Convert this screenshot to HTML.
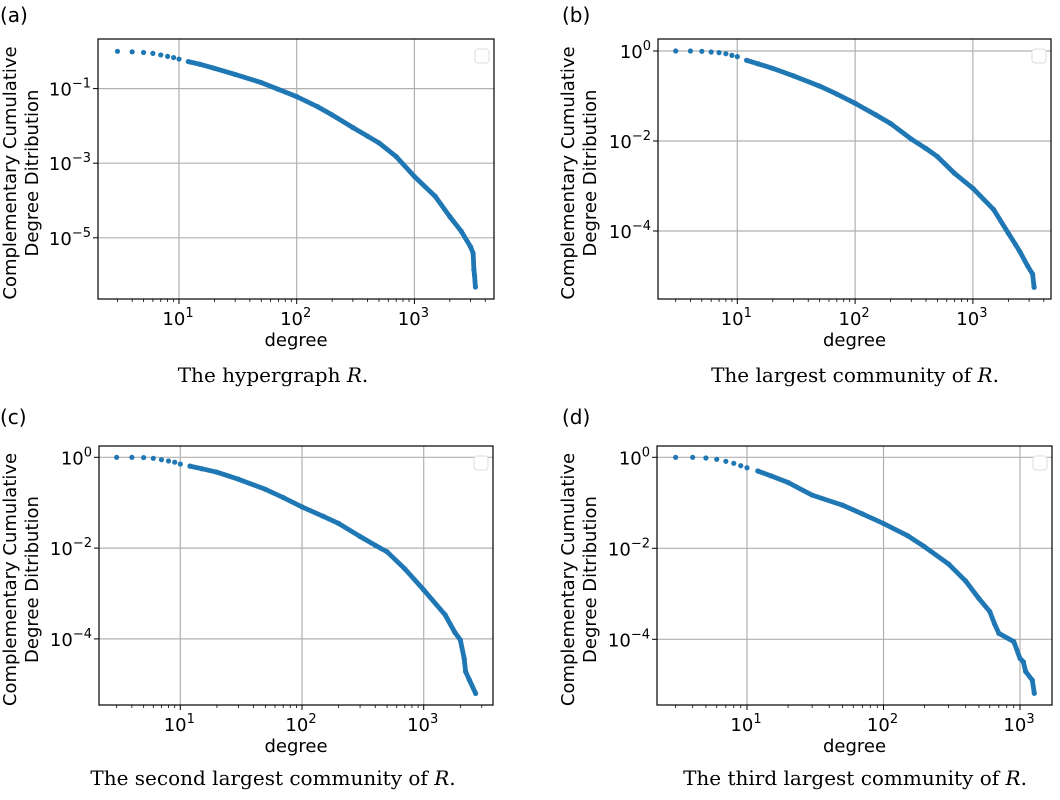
<!DOCTYPE html>
<html><head><meta charset="utf-8"><style>
body{margin:0;background:#fff}
svg text{font-family:"DejaVu Sans","Liberation Sans",sans-serif;fill:#000}
.cap{font-family:"DejaVu Serif","Liberation Serif",serif;font-size:20px}
</style></head><body>
<svg id="fig" width="1060" height="795" viewBox="0 0 1060 795" xmlns="http://www.w3.org/2000/svg"></svg>
<script>
// panel (a) data: degree, CCDF
const degA = [3,4,5,6,7,8,9,10,12,15,20,30,50,70,100,150,200,300,400,500,700,1000,1500,2000,2500,3000,3150,3200,3250,3300];
const ccdfA = [1.0,0.97,0.93,0.88,0.8,0.73,0.68,0.62,0.53,0.45,0.35,0.24,0.145,0.095,0.061,0.033,0.0197,0.009,0.0053,0.0035,0.0015,0.00044,0.00013,0.000037,0.000015,0.0000057,0.0000039,0.0000014,0.00000095,0.00000048];
// panel (b)
const degB = [3,4,5,6,7,8,9,10,12,15,20,30,50,70,100,150,200,300,400,500,700,1000,1500,2000,2300,2500,2920,3210,3310];
const ccdfB = [1.0,1.0,0.985,0.95,0.92,0.87,0.8,0.75,0.62,0.52,0.41,0.28,0.166,0.11,0.069,0.038,0.0245,0.011,0.0068,0.0045,0.0019,0.00089,0.00030,0.000089,0.00005,0.000035,0.0000166,0.000011,0.0000056];
// panel (c)
const degC = [3,4,5,6,7,8,9,10,12,15,20,30,50,70,100,150,200,300,400,500,700,1000,1500,1800,2000,2150,2210,2370,2670];
const ccdfC = [1.0,1.0,0.985,0.95,0.885,0.83,0.78,0.71,0.64,0.56,0.47,0.33,0.197,0.13,0.081,0.05,0.035,0.018,0.0115,0.0083,0.0035,0.0012,0.00034,0.00014,0.000095,0.000037,0.000019,0.0000126,0.0000063];
// panel (d)
const degD = [3,4,5,6,7,8,9,10,12,15,20,30,50,70,100,150,200,300,400,500,600,650,700,900,1000,1058,1101,1231,1273];
const ccdfD = [1.0,1.0,0.966,0.904,0.817,0.738,0.653,0.59,0.5,0.39,0.28,0.148,0.089,0.057,0.035,0.019,0.0108,0.0045,0.0019,0.00079,0.00041,0.00022,0.000135,0.000089,0.000038,0.000032,0.0000195,0.0000126,0.0000065];

const panels = [
 {id:'a', deg:degA, ccdf:ccdfA, box:[98,39,494,299], x10:179, xdec:117.7, y0:51.3, ydec:37.3, yt:[-1,-3,-5], xmax:3,
  letter:[0,22], ttl:[10,32], caption:'The hypergraph ', capX:273, capY:382},
 {id:'b', deg:degB, ccdf:ccdfB, box:[658,39,1051,299], x10:737.3, xdec:117.8, y0:51, ydec:45, yt:[0,-2,-4], xmax:3,
  letter:[562,22], ttl:[568,590], caption:'The largest community of ', capX:855, capY:382},
 {id:'c', deg:degC, ccdf:ccdfC, box:[99,446,493,705], x10:180.3, xdec:121.7, y0:457.3, ydec:45.4, yt:[0,-2,-4], xmax:3,
  letter:[0,424], ttl:[10,32], caption:'The second largest community of ', capX:273, capY:785},
 {id:'d', deg:degD, ccdf:ccdfD, box:[657,446,1052,705], x10:747, xdec:136.5, y0:457.3, ydec:45.5, yt:[0,-2,-4], xmax:3,
  letter:[562,424], ttl:[568,590], caption:'The third largest community of ', capX:855, capY:785}
];
const NS='http://www.w3.org/2000/svg';
const svg=document.getElementById('fig');
function mk(tag,attrs,parent){const e=document.createElementNS(NS,tag);for(const k in attrs)e.setAttribute(k,attrs[k]);(parent||svg).appendChild(e);return e;}

panels.forEach(p=>{
  const g=mk('g',{});
  
  
  const X=v=>p.x10+p.xdec*(Math.log10(v)-1);
  const Y=v=>p.y0-p.ydec*Math.log10(v);
  const [x0,y0,x1,y1]=p.box;
  for(let e=1;e<=p.xmax;e++){
    const l=mk('line',{x1:X(Math.pow(10,e)),x2:X(Math.pow(10,e)),y1:y0,y2:y1,stroke:'#b0b0b0','stroke-width':1.2},g);
    
    
  }
  p.yt.forEach(e=>{
    const l=mk('line',{x1:x0,x2:x1,y1:Y(Math.pow(10,e)),y2:Y(Math.pow(10,e)),stroke:'#b0b0b0','stroke-width':1.2},g);
    
    
  });
  for(let e=0;e<=p.xmax;e++){
    for(let m=1;m<10;m++){
      const v=m*Math.pow(10,e);const x=X(v);
      if(x<x0||x>x1)continue;
      const t=mk('line',{x1:x,x2:x,y1:y1,y2:y1+(m==1?5:3),stroke:'#000','stroke-width':m==1?1:0.8},g);
      
      
    }
    if(e>=1){
      const t=mk('text',{x:X(Math.pow(10,e))-1,y:y1+26,'font-size':18,'text-anchor':'middle'},g);
      
      
      t.innerHTML='10<tspan dy="-8" font-size="13">'+e+'</tspan>';
    }
  }
  p.yt.forEach(e=>{
    const y=Y(Math.pow(10,e));
    const tk=mk('line',{x1:x0-5,x2:x0,y1:y,y2:y,stroke:'#000','stroke-width':1},g);
    
    
    const t=mk('text',{x:x0-7,y:y+7,'font-size':18,'text-anchor':'end'},g);
    
    
    t.innerHTML='10<tspan dy="-8" font-size="13">'+(e<0?'\u2212'+(-e):e)+'</tspan>';
  });
  const pts=[];
  p.deg.forEach((d,i)=>{if(d>=11)pts.push(X(d).toFixed(1)+','+Y(p.ccdf[i]).toFixed(1));});
  const band=mk('polyline',{points:pts.join(' '),fill:'none',stroke:'#1f77b4','stroke-width':4.8,'stroke-linejoin':'round','stroke-linecap':'round'},g);
  
  
  p.deg.forEach((d,i)=>{
    const c=mk('circle',{cx:X(d),cy:Y(p.ccdf[i]),r:2.6,fill:'#1f77b4'},g);
    
    
  });
  const f=mk('rect',{x:x0,y:y0,width:x1-x0,height:y1-y0,fill:'none',stroke:'#000','stroke-width':1.2},g);
  
  
  const lg=mk('rect',{x:x1-19,y:y0+10,width:14,height:14,rx:3,fill:'#fff',stroke:'#ddd','stroke-width':1},g);
  
  
  const xl=mk('text',{x:(x0+x1)/2,y:y1+47,'font-size':18,'text-anchor':'middle'},g);
  
  
  xl.textContent='degree';
  const cy=(y0+y1)/2+4;
  const t1=mk('text',{x:p.ttl[0],y:cy,'font-size':18,'text-anchor':'middle',transform:'rotate(-90 '+(p.ttl[0])+' '+cy+')',dy:6},g);
  
  
  t1.textContent='Complementary Cumulative';
  const t2=mk('text',{x:p.ttl[1],y:cy,'font-size':18,'text-anchor':'middle',transform:'rotate(-90 '+(p.ttl[1])+' '+cy+')',dy:6},g);
  
  
  t2.textContent='Degree Ditribution';
  const lt=mk('text',{x:p.letter[0],y:p.letter[1],'font-size':20},g);
  
  
  lt.textContent='('+p.id+')';
  const cp=mk('text',{x:p.capX,y:p.capY,'text-anchor':'middle','class':'cap'},g);
  
  
  cp.innerHTML=p.caption+'<tspan font-style="italic">R</tspan>.';
});
</script>
</body></html>
